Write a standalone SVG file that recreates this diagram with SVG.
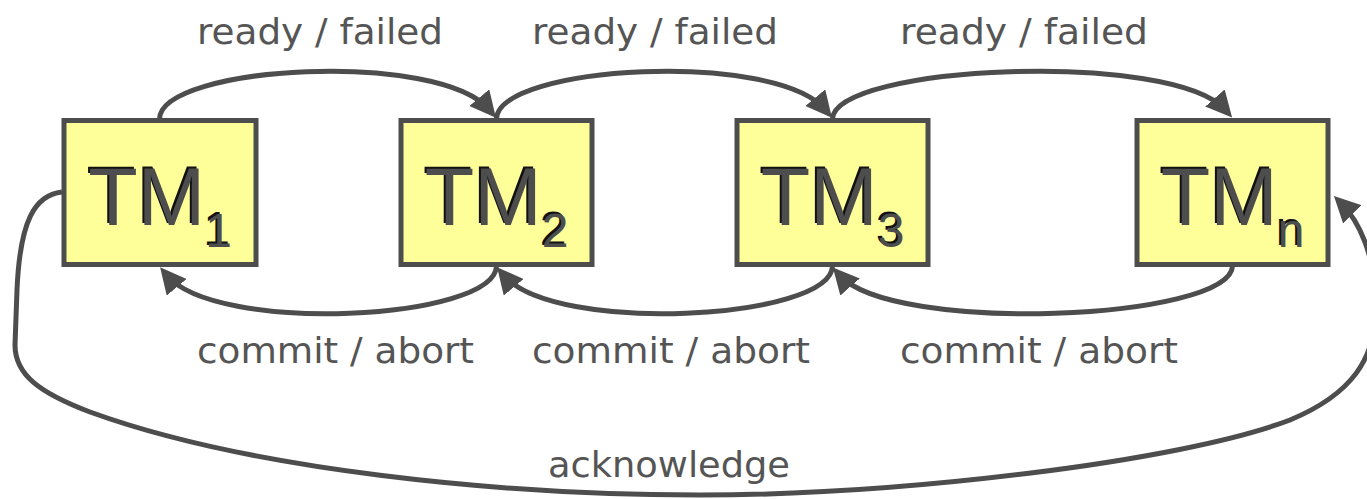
<svg xmlns="http://www.w3.org/2000/svg" width="1367" height="499" viewBox="0 0 1367 499">
  <style>
    .box { fill: #ffff99; stroke: #4d4d4d; stroke-width: 5; }
    .tm { font-family: "Liberation Sans", Arial, sans-serif; font-size: 81px; text-anchor: middle; }
    .tm-shadow { fill: #111111; }
    .tm-face { fill: #4d4d4d; }
    .sub { font-size: 48px; }
    .edge { fill: none; stroke: #4d4d4d; stroke-width: 5; }
    .label { font-family: "DejaVu Sans", Tahoma, sans-serif; font-size: 36px; fill: #555555; }
  </style>
  <defs>
    <marker id="arrow" markerUnits="userSpaceOnUse" viewBox="0 0 26 26" markerWidth="26" markerHeight="26" refX="16" refY="13" orient="auto">
      <path d="M0,0 L26,13 L0,26 z" fill="#4d4d4d"/>
    </marker>
  </defs>

  <rect width="1367" height="499" fill="#ffffff"/>

  <!-- connectors -->
  <g id="connectors">
    <!-- ready / failed (forward, over the top) -->
    <path class="edge" marker-end="url(#arrow)" d="M159.5,119 C161,65 439.5,50 489.5,110"/>
    <path class="edge" marker-end="url(#arrow)" d="M496.5,119 C498,65 775.5,50 825.5,110"/>
    <path class="edge" marker-end="url(#arrow)" d="M832.5,119 C834,65 1172.5,50 1225.5,110"/>
    <!-- commit / abort (backward, underneath) -->
    <path class="edge" marker-end="url(#arrow)" d="M496.5,266 C495,320 216.5,335 166.5,275"/>
    <path class="edge" marker-end="url(#arrow)" d="M832.5,266 C831,320 553.5,335 503.5,275"/>
    <path class="edge" marker-end="url(#arrow)" d="M1232.5,266 C1231,320 892.5,335 839.5,275"/>
    <!-- acknowledge (long return loop from TM1 round to TMn) -->
    <path class="edge" marker-end="url(#arrow)" d="M62,192 C35,195 20,220 17,290 L15,345 C15,375 40,393 90,412 C250,470 500,495 700,495 C900,495 1180,462 1290,420 C1350,395 1378,360 1376,300 C1374,255 1360,222 1341,203"/>
  </g>

  <!-- edge labels -->
  <g id="labels">
    <text class="label" x="197" y="44" textLength="246" lengthAdjust="spacingAndGlyphs">ready / failed</text>
    <text class="label" x="532" y="44" textLength="246" lengthAdjust="spacingAndGlyphs">ready / failed</text>
    <text class="label" x="900" y="44" textLength="248" lengthAdjust="spacingAndGlyphs">ready / failed</text>
    <text class="label" x="197" y="363" textLength="277" lengthAdjust="spacingAndGlyphs">commit / abort</text>
    <text class="label" x="532" y="363" textLength="278" lengthAdjust="spacingAndGlyphs">commit / abort</text>
    <text class="label" x="900" y="363" textLength="278" lengthAdjust="spacingAndGlyphs">commit / abort</text>
    <text class="label" x="548" y="477" textLength="242" lengthAdjust="spacingAndGlyphs">acknowledge</text>
  </g>

  <!-- transaction managers -->
  <g id="tm1">
    <rect class="box" x="64" y="120.5" width="192" height="144"/>
    <text class="tm tm-shadow" x="158" y="223">TM<tspan class="sub" dy="22">1</tspan></text>
    <text class="tm tm-face" x="160" y="225">TM<tspan class="sub" dy="22">1</tspan></text>
  </g>
  <g id="tm2">
    <rect class="box" x="401" y="120.5" width="191" height="144"/>
    <text class="tm tm-shadow" x="494.5" y="223">TM<tspan class="sub" dy="22">2</tspan></text>
    <text class="tm tm-face" x="496.5" y="225">TM<tspan class="sub" dy="22">2</tspan></text>
  </g>
  <g id="tm3">
    <rect class="box" x="737" y="120.5" width="191" height="144"/>
    <text class="tm tm-shadow" x="830.5" y="223">TM<tspan class="sub" dy="22">3</tspan></text>
    <text class="tm tm-face" x="832.5" y="225">TM<tspan class="sub" dy="22">3</tspan></text>
  </g>
  <g id="tmn">
    <rect class="box" x="1137" y="120.5" width="191" height="144"/>
    <text class="tm tm-shadow" x="1230.5" y="223">TM<tspan class="sub" dy="22">n</tspan></text>
    <text class="tm tm-face" x="1232.5" y="225">TM<tspan class="sub" dy="22">n</tspan></text>
  </g>
</svg>
